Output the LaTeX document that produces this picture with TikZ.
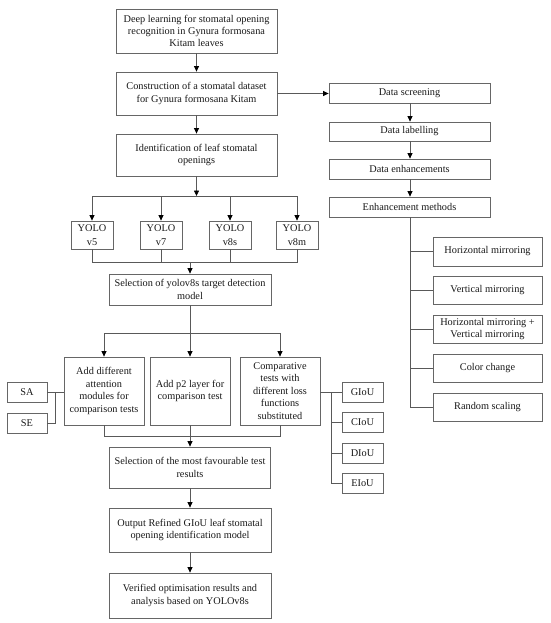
\documentclass[tikz,border=0pt]{standalone}
\usepackage{fontspec}
\setmainfont{Liberation Serif}
\usetikzlibrary{arrows.meta,calc}
\begin{document}
\begin{tikzpicture}[x=1pt,y=-1pt,
  box/.style={draw=black!60, line width=0.8pt, inner sep=0pt, align=center,
    font=\fontsize{10.3}{12.4}\selectfont, text=black!90},
  yolo/.style={box, minimum width=42pt, minimum height=28pt, font=\fontsize{10.3}{14.5}\selectfont},
  ln/.style={draw=black!65, line width=0.8pt},
  arr/.style={ln, -{Triangle[length=5.5pt,width=5pt,black]}}]
\useasboundingbox[fill=white] (0,0) rectangle (550,623);
% main column
\node[box, minimum width=161pt, minimum height=44pt] (b1) at (196.5,31) {Deep learning for stomatal opening\\recognition in Gynura formosana\\Kitam leaves};
\node[box, minimum width=161pt, minimum height=43pt] (b2) at (196.5,93.5) {Construction of a stomatal dataset\\for Gynura formosana Kitam};
\node[box, minimum width=161pt, minimum height=42pt] (b3) at (196.5,155) {Identification of leaf stomatal\\openings};
\node[yolo] (y5) at (92,235) {YOLO\\v5};
\node[yolo] (y7) at (161,235) {YOLO\\v7};
\node[yolo] (y8s) at (230,235) {YOLO\\v8s};
\node[yolo] (y8m) at (297,235) {YOLO\\v8m};
\node[box, minimum width=162pt, minimum height=31pt] (sel) at (190,289.5) {Selection of yolov8s target detection\\model};
\node[box, minimum width=80pt, minimum height=68pt] (att) at (104,391) {Add different\\attention\\modules for\\comparison tests};
\node[box, minimum width=80pt, minimum height=68pt] (p2) at (190,391) {Add p2 layer for\\comparison test};
\node[box, minimum width=80pt, minimum height=68pt] (cmp) at (280,391) {Comparative\\tests with\\different loss\\functions\\substituted};
\node[box, minimum width=161pt, minimum height=41pt] (fav) at (190,467.5) {Selection of the most favourable test\\results};
\node[box, minimum width=162pt, minimum height=44pt] (out) at (190,530) {Output Refined GIoU leaf stomatal\\opening identification model};
\node[box, minimum width=162pt, minimum height=45pt] (ver) at (190,595.5) {Verified optimisation results and\\analysis based on YOLOv8s};
% side boxes
\node[box, minimum width=40pt, minimum height=20pt] (sa) at (27,392) {SA};
\node[box, minimum width=40pt, minimum height=20pt] (se) at (27,423) {SE};
\node[box, minimum width=41pt, minimum height=20pt] (gi) at (362.5,392) {GIoU};
\node[box, minimum width=41pt, minimum height=20pt] (ci) at (362.5,422.5) {CIoU};
\node[box, minimum width=41pt, minimum height=20pt] (di) at (362.5,453) {DIoU};
\node[box, minimum width=41pt, minimum height=20pt] (ei) at (362.5,483) {EIoU};
% right column
\node[box, minimum width=161pt, minimum height=20pt] (ds) at (409.5,93) {Data screening};
\node[box, minimum width=161pt, minimum height=19pt] (dl) at (409.5,131.5) {Data labelling};
\node[box, minimum width=161pt, minimum height=20pt] (de) at (409.5,169) {Data enhancements};
\node[box, minimum width=161pt, minimum height=20pt] (em) at (409.5,207) {Enhancement methods};
\node[box, minimum width=109pt, minimum height=29pt] (hm) at (487.5,251.5) {Horizontal mirroring};
\node[box, minimum width=109pt, minimum height=28pt] (vm) at (487.5,290) {Vertical mirroring};
\node[box, minimum width=109pt, minimum height=28pt] (hv) at (487.5,329) {Horizontal mirroring +\\Vertical mirroring};
\node[box, minimum width=109pt, minimum height=28pt] (cc) at (487.5,368) {Color change};
\node[box, minimum width=109pt, minimum height=28pt] (rs) at (487.5,407) {Random scaling};
% coordinates
\coordinate (busA) at (196.5,196);
\coordinate (busB) at (190,262);
\coordinate (busC) at (190,333);
\coordinate (busD) at (190,436);
\coordinate (jL) at (55,392);
\coordinate (jR) at (331,392);
\coordinate (jE) at (410,407);
% main connectors
\draw[arr] (b1.south) -- (b2.north);
\draw[arr] (b2.south) -- (b3.north);
\draw[arr] (b2.east) -- (b2.east -| ds.west);
\draw[arr] (b3.south) -- (busA);
\draw[ln] (y5.north |- busA) -- (y8m.north |- busA);
\draw[arr] (y5.north |- busA) -- (y5.north);
\draw[arr] (y7.north |- busA) -- (y7.north);
\draw[arr] (y8s.north |- busA) -- (y8s.north);
\draw[arr] (y8m.north |- busA) -- (y8m.north);
\draw[ln] (y5.south) -- (y5.south |- busB) -- (y8m.south |- busB) -- (y8m.south);
\draw[ln] (y7.south) -- (y7.south |- busB);
\draw[ln] (y8s.south) -- (y8s.south |- busB);
\draw[arr] (busB) -- (sel.north);
\draw[ln] (sel.south) -- (busC);
\draw[ln] (att.north |- busC) -- (cmp.north |- busC);
\draw[arr] (att.north |- busC) -- (att.north);
\draw[arr] (busC) -- (p2.north);
\draw[arr] (cmp.north |- busC) -- (cmp.north);
\draw[ln] (att.south) -- (att.south |- busD) -- (cmp.south |- busD) -- (cmp.south);
\draw[ln] (p2.south) -- (busD);
\draw[arr] (busD) -- (fav.north);
\draw[arr] (fav.south) -- (out.north);
\draw[arr] (out.south) -- (ver.north);
% SA / SE
\draw[ln] (sa.east) -- (att.west |- sa.east);
\draw[ln] (se.east) -| (jL);
% loss functions
\draw[ln] (cmp.east |- gi.west) -- (gi.west);
\draw[ln] (jR) |- (ei.west);
\draw[ln] (jR |- ci.west) -- (ci.west);
\draw[ln] (jR |- di.west) -- (di.west);
% right column
\draw[arr] (ds.south -| 410,0) -- (dl.north -| 410,0);
\draw[arr] (dl.south -| 410,0) -- (de.north -| 410,0);
\draw[arr] (de.south -| 410,0) -- (em.north -| 410,0);
\draw[ln] (em.south -| jE) -- (jE) -- (rs.west);
\draw[ln] (jE |- hm.west) -- (hm.west);
\draw[ln] (jE |- vm.west) -- (vm.west);
\draw[ln] (jE |- hv.west) -- (hv.west);
\draw[ln] (jE |- cc.west) -- (cc.west);
\end{tikzpicture}
\end{document}
